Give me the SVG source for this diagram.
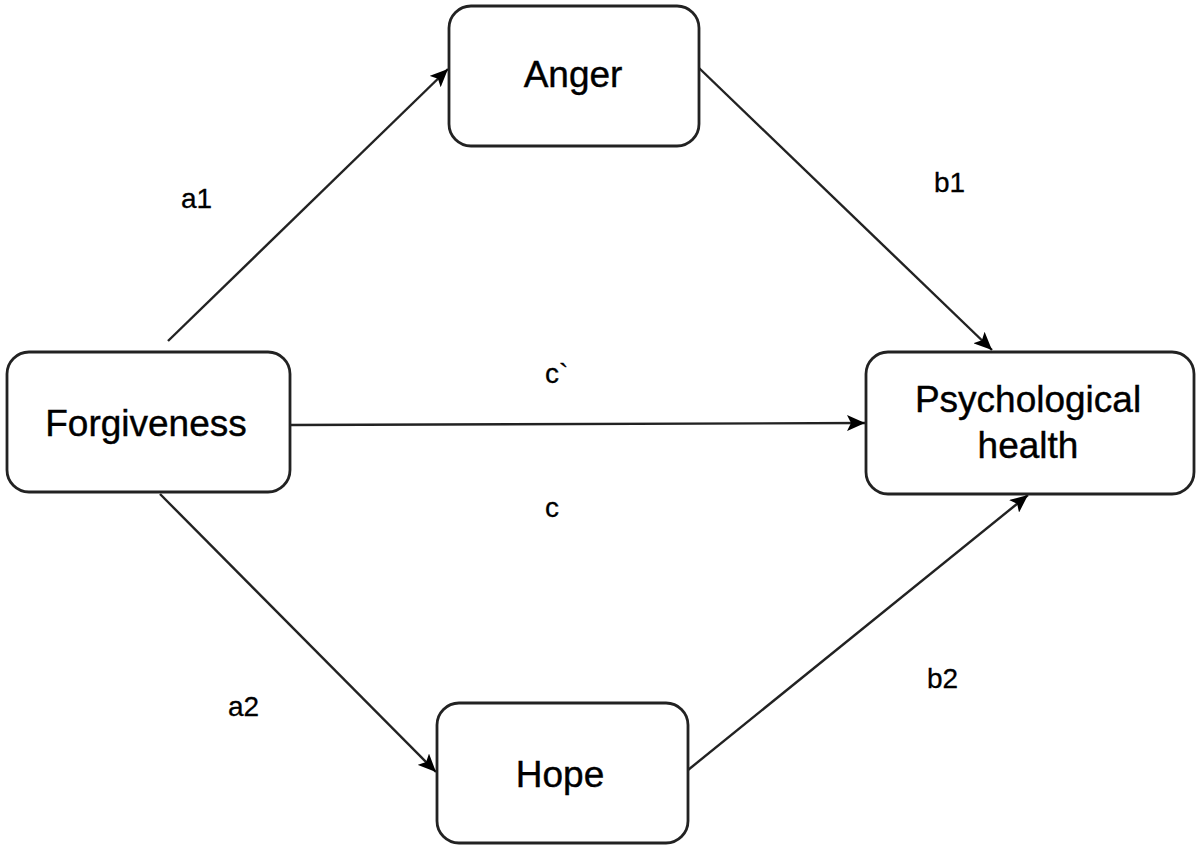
<svg xmlns="http://www.w3.org/2000/svg" width="1200" height="848" viewBox="0 0 1200 848">
<style>
.box{fill:#fff;stroke:#222;stroke-width:2.8}
.t{font-family:"Liberation Sans",Arial,sans-serif;font-size:37px;fill:#000;stroke:#000;stroke-width:0.4;text-anchor:middle}
.l{font-family:"Liberation Sans",Arial,sans-serif;font-size:28px;fill:#000;stroke:#000;stroke-width:0.3}
.e{stroke:#222;stroke-width:2.4;fill:none;marker-end:url(#ah)}
</style>
<defs>
<marker id="ah" markerUnits="userSpaceOnUse" markerWidth="20" markerHeight="16" refX="18" refY="8" orient="auto">
<path d="M0,0 L18,8 L0,16 L4,8 z" fill="#000"/>
</marker>
</defs>
<rect width="1200" height="848" fill="#fff"/>
<g id="edges">
<line class="e" x1="168" y1="341" x2="448" y2="69"/>
<line class="e" x1="699" y1="68" x2="992" y2="350"/>
<line class="e" x1="290" y1="425" x2="865" y2="423"/>
<line class="e" x1="160" y1="494" x2="436" y2="772"/>
<line class="e" x1="688" y1="770" x2="1028" y2="495"/>
</g>
<g id="anger"><rect class="box" x="449" y="6" width="250" height="140" rx="22"/><text class="t" x="573" y="87">Anger</text></g>
<g id="forgiveness"><rect class="box" x="7" y="352" width="283" height="140" rx="22"/><text class="t" x="146" y="436">Forgiveness</text></g>
<g id="psych"><rect class="box" x="866" y="352" width="328" height="142" rx="22"/><text class="t" x="1028" y="412">Psychological</text><text class="t" x="1028" y="458">health</text></g>
<g id="hope"><rect class="box" x="437" y="703" width="251" height="140" rx="22"/><text class="t" x="560" y="787">Hope</text></g>
<g id="labels">
<text class="l" x="181" y="208">a1</text>
<text class="l" x="934" y="192">b1</text>
<text class="l" x="545" y="383">c`</text>
<text class="l" x="545" y="517">c</text>
<text class="l" x="228" y="716">a2</text>
<text class="l" x="927" y="688">b2</text>
</g>
</svg>
